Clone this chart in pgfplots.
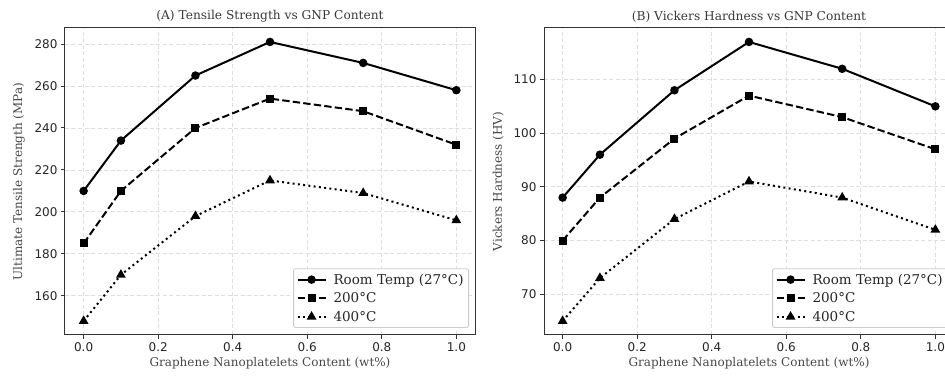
\documentclass[border=0pt]{standalone}
\usepackage{fontspec}
\setmainfont{DejaVu Serif}
\newfontfamily\ticksf{DejaVu Sans}
\usepackage{pgfplots}
\usepackage{pgfplotstable}
\pgfplotsset{compat=1.18}

\pgfplotstableread{
x room t200 t400
0.00 210 185 148
0.10 234 210 170
0.30 265 240 198
0.50 281 254 215
0.75 271 248 209
1.00 258 232 196
}\tensile

\pgfplotstableread{
x room t200 t400
0.00 88 80 65
0.10 96 88 73
0.30 108 99 84
0.50 117 107 91
0.75 112 103 88
1.00 105 97 82
}\hardness

\pgfplotsset{
  myaxis/.style={
    scale only axis,
    width=410pt, height=307pt,
    anchor=south west,
    xmin=-0.05, xmax=1.05,
    xtick={0,0.2,0.4,0.6,0.8,1.0},
    xticklabels={0.0,0.2,0.4,0.6,0.8,1.0},
    axis line style={black!80, line width=1pt},
    tick style={black!80, line width=1pt},
    tick align=outside,
    major tick length=4pt,
    xtick pos=bottom, ytick pos=left,
    /pgf/number format/assume math mode=true,
    tick label style={font=\ticksf\fontsize{12}{14}\selectfont, text=black!85},
    label style={font=\fontsize{12}{13}\selectfont, text=black!72},
    xlabel style={yshift=1pt},
    ylabel style={yshift=3pt},
    title style={font=\fontsize{12.2}{13}\selectfont, text=black!78, yshift=-4pt},
    grid=major,
    major grid style={black!13, dash pattern=on 4pt off 2.5pt, line width=0.9pt},
    legend cell align=left,
    legend style={
      at={(rel axis cs:1,0)}, anchor=south east,
      xshift=-6pt, yshift=7pt,
      draw=black!20, fill=white, rounded corners=2pt, line width=0.9pt,
      font=\fontsize{13.5}{15}\selectfont, text=black!85,
      row sep=3pt, inner xsep=3pt, inner ysep=3pt,
      /tikz/every even column/.append style={column sep=3pt},
      /tikz/every odd column/.append style={column sep=5pt},
    },
    legend image code/.code={
      \draw[#1] (0pt,0pt) -- (28pt,0pt);
      \draw[#1,solid] plot coordinates {(14pt,0pt)};
    },
  },
  s1/.style={black, line width=2pt, solid, mark=*, mark size=3.2pt, mark options={solid}},
  s2/.style={black, line width=2pt, dash pattern=on 7.4pt off 3.2pt, mark=square*, mark size=3pt, mark options={solid}},
  s3/.style={black, line width=2pt, dash pattern=on 2pt off 3.3pt, mark=triangle*, mark size=3.7pt, mark options={solid}},
}

\begin{document}
\begin{tikzpicture}
\useasboundingbox (0,0) rectangle (945pt,377pt);
\begin{axis}[myaxis, at={(65pt,42pt)},
  ymin=141.35, ymax=287.65,
  ytick={160,180,200,220,240,260,280},
  title={(A) Tensile Strength vs GNP Content},
  xlabel={Graphene Nanoplatelets Content (wt\%)},
  ylabel={Ultimate Tensile Strength (MPa)},
]
\addplot[s1] table[x=x,y=room] {\tensile};
\addlegendentry{Room Temp (27°C)}
\addplot[s2] table[x=x,y=t200] {\tensile};
\addlegendentry{200°C}
\addplot[s3] table[x=x,y=t400] {\tensile};
\addlegendentry{400°C}
\end{axis}
\begin{axis}[myaxis, at={(544pt,42pt)},
  ymin=62.4, ymax=119.6,
  ytick={70,80,90,100,110},
  title={(B) Vickers Hardness vs GNP Content},
  xlabel={Graphene Nanoplatelets Content (wt\%)},
  ylabel={Vickers Hardness (HV)},
]
\addplot[s1] table[x=x,y=room] {\hardness};
\addlegendentry{Room Temp (27°C)}
\addplot[s2] table[x=x,y=t200] {\hardness};
\addlegendentry{200°C}
\addplot[s3] table[x=x,y=t400] {\hardness};
\addlegendentry{400°C}
\end{axis}
\end{tikzpicture}
\end{document}
